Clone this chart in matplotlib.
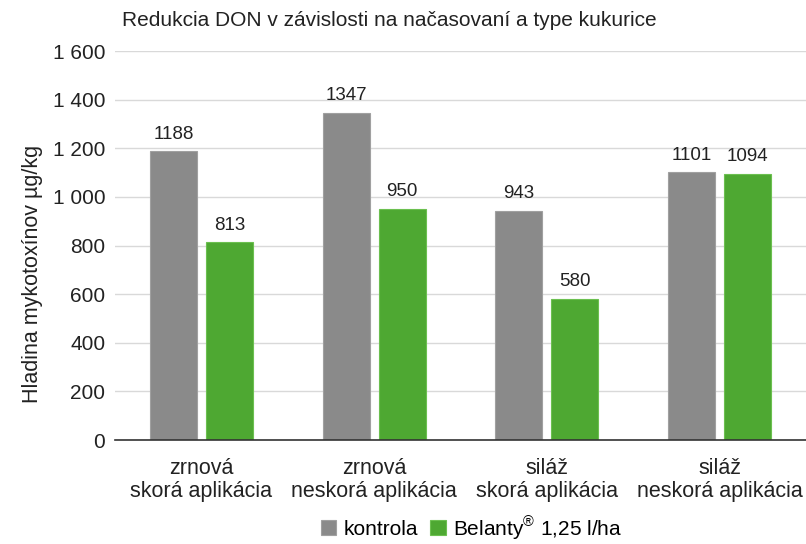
import matplotlib
matplotlib.use("Agg")
from matplotlib import pyplot as plt
import numpy as np

plt.rcParams['font.family'] = ['Liberation Sans', 'DejaVu Sans']

categories = ["zrnová\nskorá aplikácia", "zrnová\nneskorá aplikácia",
              "siláž\nskorá aplikácia", "siláž\nneskorá aplikácia"]
kontrola = [1188, 1347, 943, 1101]
belanty = [813, 950, 580, 1094]
series_names = ["kontrola", "Belanty$^{\\mathregular{®}}$ 1,25 l/ha"]
yticks = [0, 200, 400, 600, 800, 1000, 1200, 1400, 1600]
ytick_labels = ["0", "200", "400", "600", "800", "1 000", "1 200", "1 400", "1 600"]

GRAY = "#8a8a8a"
GREEN = "#4ea832"

fig = plt.figure(figsize=(8.06, 5.44), dpi=100)
ax = fig.add_axes([0.1427, 0.191, 0.8573, 0.715])

x = np.arange(len(categories))
w = 0.272
off = 0.162
b1 = ax.bar(x - off, kontrola, w, color=GRAY, edgecolor="#a0a0a0", linewidth=0.8, zorder=3, label=series_names[0])
b2 = ax.bar(x + off, belanty, w, color=GREEN, edgecolor="#6cc050", linewidth=0.8, zorder=3, label=series_names[1])

for xi, v in zip(x - off, kontrola):
    ax.text(xi, v + 36, str(v), ha='center', va='bottom', fontsize=13.5, color="#222222")
for xi, v in zip(x + off, belanty):
    ax.text(xi, v + 36, str(v), ha='center', va='bottom', fontsize=13.5, color="#222222")

ax.set_xlim(-0.5, 3.5)
ax.set_ylim(0, 1600)
ax.set_yticks(yticks)
ax.set_yticklabels(ytick_labels, fontsize=15)
ax.set_xticks(x)
ax.set_xticklabels(categories, fontsize=15.5, linespacing=1.12)
ax.tick_params(axis='both', length=0, colors="#222222")
ax.tick_params(axis='y', pad=7)
ax.tick_params(axis='x', pad=13)
ax.yaxis.grid(True, color="#d9d9d9", linewidth=1, zorder=0)
for s in ["top", "right", "left"]:
    ax.spines[s].set_visible(False)
ax.spines["bottom"].set_color("#333333")
ax.spines["bottom"].set_linewidth(1.2)
ax.spines["bottom"].set_zorder(4)

ax.set_ylabel("Hladina mykotoxínov µg/kg", fontsize=15.5, color="#222222")
ax.yaxis.set_label_coords(-0.104, 0.427)
fig.text(0.151, 0.962, "Redukcia DON v závislosti na načasovaní a type kukurice",
         fontsize=15, color="#222222", ha='left', va='center')

fig.legend(handles=[b1, b2], loc='center', bbox_to_anchor=(0.585, 0.03), ncol=2,
           frameon=False, fontsize=15, handlelength=0.75, handleheight=0.75,
           handletextpad=0.35, columnspacing=0.6, borderaxespad=0, borderpad=0)

plt.savefig("out.png", dpi=100)
